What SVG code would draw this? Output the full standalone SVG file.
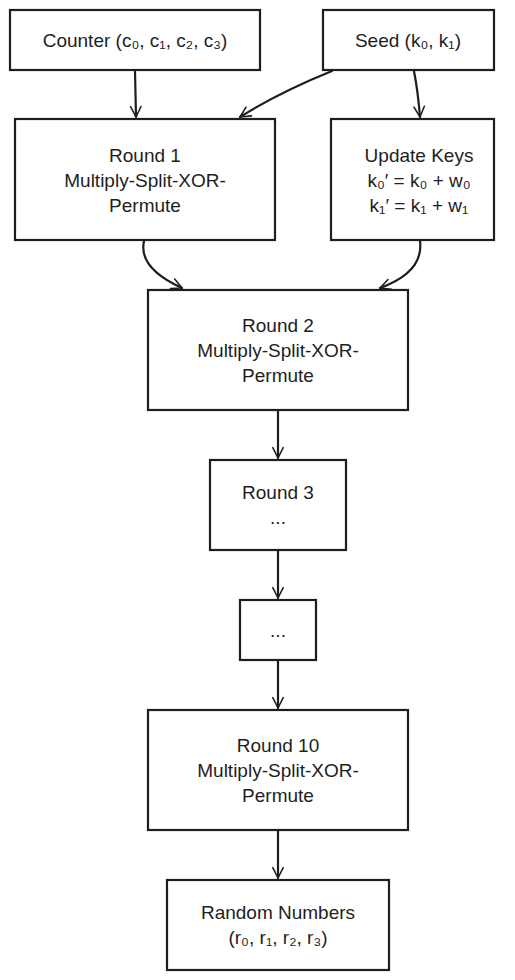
<svg xmlns="http://www.w3.org/2000/svg" width="515" height="980" viewBox="0 0 515 980">
<defs>
<style>
.box{fill:#ffffff;stroke:#1e1e1e;stroke-width:2.2}
.t{font-family:"Liberation Sans","DejaVu Sans",sans-serif;font-size:19px;fill:#1e1e1e;text-anchor:middle;dominant-baseline:central}
.c{fill:none;stroke:#1e1e1e;stroke-width:2.2;stroke-linecap:round}
</style>
<marker id="ah" viewBox="0 0 20 20" refX="18" refY="10" markerWidth="13" markerHeight="13" orient="auto" markerUnits="userSpaceOnUse">
<path d="M2,2 L18,10 L2,18" fill="none" stroke="#1e1e1e" stroke-width="2.4" stroke-linecap="round" stroke-linejoin="round"/>
</marker>
</defs>
<rect width="515" height="980" fill="#ffffff"/>
<g id="counter"><rect class="box" x="10" y="10" width="250" height="60"/><text class="t" x="135" y="40">Counter (c₀, c₁, c₂, c₃)</text></g>
<g id="seed"><rect class="box" x="323" y="10" width="171" height="60"/><text class="t" x="408" y="40">Seed (k₀, k₁)</text></g>
<g id="round1"><rect class="box" x="15" y="119" width="260" height="121"/><text class="t" x="145" y="155">Round 1</text><text class="t" x="145" y="180">Multiply-Split-XOR-</text><text class="t" x="145" y="205">Permute</text></g>
<g id="update"><rect class="box" x="331" y="119" width="163" height="121"/><text class="t" x="419" y="155">Update Keys</text><text class="t" x="419" y="180">k₀′ = k₀ + w₀</text><text class="t" x="419" y="205">k₁′ = k₁ + w₁</text></g>
<g id="round2"><rect class="box" x="148" y="290" width="260" height="120"/><text class="t" x="278" y="325">Round 2</text><text class="t" x="278" y="350">Multiply-Split-XOR-</text><text class="t" x="278" y="375">Permute</text></g>
<g id="round3"><rect class="box" x="210" y="460" width="136" height="90"/><text class="t" x="278" y="492">Round 3</text><text class="t" x="278" y="517">...</text></g>
<g id="dots"><rect class="box" x="240" y="600" width="76" height="60"/><text class="t" x="278" y="630">...</text></g>
<g id="round10"><rect class="box" x="148" y="710" width="260" height="120"/><text class="t" x="278" y="745">Round 10</text><text class="t" x="278" y="770">Multiply-Split-XOR-</text><text class="t" x="278" y="795">Permute</text></g>
<g id="random"><rect class="box" x="167" y="880" width="222" height="90"/><text class="t" x="278" y="912">Random Numbers</text><text class="t" x="278" y="937">(r₀, r₁, r₂, r₃)</text></g>
<g id="connectors">
<path class="c" marker-end="url(#ah)" d="M135,71 L136,117"/>
<path class="c" marker-end="url(#ah)" d="M332,71 Q280,92 240,117"/>
<path class="c" marker-end="url(#ah)" d="M414,71 Q418,92 420,117"/>
<path class="c" marker-end="url(#ah)" d="M144,241 Q138,268 182,288"/>
<path class="c" marker-end="url(#ah)" d="M420,241 Q424,272 380,288"/>
<path class="c" marker-end="url(#ah)" d="M278,411 L278,458"/>
<path class="c" marker-end="url(#ah)" d="M278,551 L278,598"/>
<path class="c" marker-end="url(#ah)" d="M278,661 L278,708"/>
<path class="c" marker-end="url(#ah)" d="M278,831 L278,878"/>
</g>
</svg>
